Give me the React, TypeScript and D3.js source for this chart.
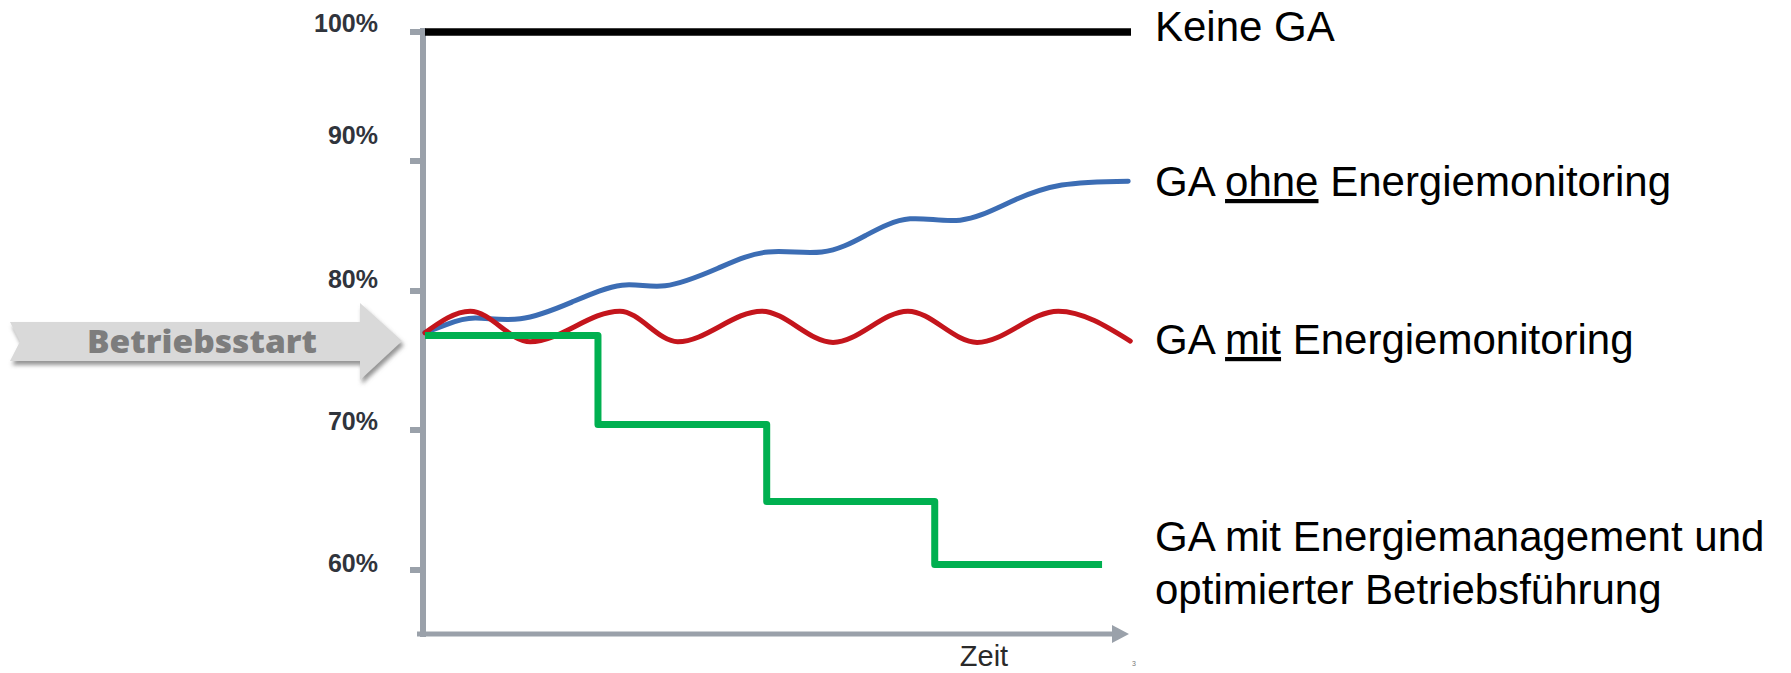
import React from "react";
import * as d3 from "d3";

// ---- data ----
const yTickValues = [60, 70, 80, 90, 100];
const yTickLabels = ["60%", "70%", "80%", "90%", "100%"];

// "Keine GA" (black)
const keineT = [0, 100];
const keineV = [100, 100];

// "GA ohne Energiemonitoring" (blue)
const ohneT = [0, 3.1, 7.1, 13.5, 20.8, 27.9, 34.0, 41.5, 48.6, 56.2, 62.5, 68.7, 75.8, 82.9, 90.2, 99.6];
const ohneV = [77.0, 77.6, 78.05, 78.0, 79.2, 80.45, 80.4, 81.75, 83.0, 83.0, 84.3, 85.55, 85.45, 86.85, 88.15, 88.45];

// "GA mit Energiemonitoring" (red)
const mitT = [0, 6.4, 14.9, 27.6, 35.8, 47.7, 57.8, 68.4, 78.2, 89.7, 99.9];
const mitV = [77.0, 78.55, 76.35, 78.55, 76.35, 78.55, 76.3, 78.55, 76.3, 78.55, 76.4];

// "GA mit Energiemanagement ..." (green, steps)
const mgmtT = [0, 24.5, 48.4, 72.2, 95.9];
const mgmtV = [76.8, 70.4, 64.9, 60.4, 60.4];

const xAxisLabel = "Zeit";
const startLabel = "Betriebsstart";

const W = 1791;
const H = 673;

export default function App() {
  const x = d3.scaleLinear().domain([0, 100]).range([425, 1131]);
  // the printed axis is not evenly spaced; follow its tick positions
  const y = d3.scaleLinear().domain(yTickValues).range([570, 430, 291, 161, 32]);
  const yLabel = d3.scaleLinear().domain(yTickValues).range([572, 430, 288, 144, 32]);

  const zip = (ts: number[], vs: number[]) => ts.map((t, i) => [t, vs[i]] as [number, number]);

  const mono = d3
    .line<[number, number]>()
    .x((d) => x(d[0]))
    .y((d) => y(d[1]))
    .curve(d3.curveMonotoneX);
  const natural = d3
    .line<[number, number]>()
    .x((d) => x(d[0]))
    .y((d) => y(d[1]))
    .curve(d3.curveNatural);
  const straight = d3
    .line<[number, number]>()
    .x((d) => x(d[0]))
    .y((d) => y(d[1]));
  const step = d3
    .line<[number, number]>()
    .x((d) => x(d[0]))
    .y((d) => y(d[1]))
    .curve(d3.curveStepAfter);

  const axisColor = "#9aa1aa";
  const axisX = x(0) - 2;
  const axisBottom = 635;

  const labelFont = "'Liberation Sans', Arial, sans-serif";
  const legendX = 1155;

  // Betriebsstart arrow shape
  const arrow = [
    [10, 322],
    [360, 322],
    [360, 303],
    [402, 341],
    [360, 380],
    [360, 361],
    [10, 361],
    [20, 341.5],
  ];

  return (
    <svg
      width={W}
      height={H}
      viewBox={`0 0 ${W} ${H}`}
      style={{ position: "absolute", left: 0, top: 0, background: "#fff" }}
    >
      <defs>
        <filter id="shadow" x="-5%" y="-20%" width="115%" height="160%">
          <feDropShadow dx="2" dy="4" stdDeviation="2" floodColor="#6f6f6f" floodOpacity="0.75" />
        </filter>
      </defs>
      <rect x={0} y={0} width={W} height={H} fill="#fff" />

      {/* Betriebsstart arrow */}
      <polygon
        points={arrow.map((p) => p.join(",")).join(" ")}
        fill="#d9d9d9"
        filter="url(#shadow)"
      />
      <text
        x={202}
        y={353}
        textAnchor="middle"
        fontFamily="'Open Sans', 'DejaVu Sans', sans-serif"
        fontWeight={800}
        fontSize={32}
        fill="#7d7d7d"
        textLength={230}
        lengthAdjust="spacingAndGlyphs"
      >
        {startLabel}
      </text>

      {/* y axis */}
      <line x1={axisX} x2={axisX} y1={28} y2={axisBottom + 2} stroke={axisColor} strokeWidth={6} />
      {yTickValues.map((v, i) => (
        <g key={v}>
          <line x1={410} x2={axisX} y1={y(v)} y2={y(v)} stroke={axisColor} strokeWidth={6} />
          <text
            x={378}
            y={yLabel(v)}
            textAnchor="end"
            fontFamily={labelFont}
            fontWeight={700}
            fontSize={25}
            fill="#30343c"
          >
            {yTickLabels[i]}
          </text>
        </g>
      ))}

      {/* x axis with arrow */}
      <line x1={417} x2={1114} y1={axisBottom - 1} y2={axisBottom - 1} stroke={axisColor} strokeWidth={5} />
      <polygon
        points={`${1112},${axisBottom - 10} ${1129},${axisBottom - 1} ${1112},${axisBottom + 8}`}
        fill={axisColor}
      />
      <text x={984} y={666} textAnchor="middle" fontFamily={labelFont} fontSize={29} fill="#2a2a2a">
        {xAxisLabel}
      </text>
      <text x={1132} y={666} fontFamily={labelFont} fontSize={7} fill="#777">
        3
      </text>

      {/* series */}
      <path d={straight(zip(keineT, keineV)) || ""} fill="none" stroke="#000" strokeWidth={7.5} />
      <path d={natural(zip(ohneT, ohneV)) || ""} fill="none" stroke="#3c6db4" strokeWidth={5} strokeLinecap="round" />
      <path d={mono(zip(mitT, mitV)) || ""} fill="none" stroke="#c4151c" strokeWidth={5} strokeLinecap="round" />
      <path
        d={step(zip(mgmtT, mgmtV)) || ""}
        fill="none"
        stroke="#00b050"
        strokeWidth={7}
        strokeLinejoin="round"
      />

      {/* right labels */}
      <g fontFamily={labelFont} fontSize={42} fill="#000">
        <text x={legendX} y={41}>Keine GA</text>
        <text x={legendX} y={196}>
          GA <tspan textDecoration="underline" style={{ textDecoration: "underline" }}>ohne</tspan> Energiemonitoring
        </text>
        <text x={legendX} y={354}>
          GA <tspan textDecoration="underline" style={{ textDecoration: "underline" }}>mit</tspan> Energiemonitoring
        </text>
        <text x={legendX} y={551}>GA mit Energiemanagement und</text>
        <text x={legendX} y={604}>optimierter Betriebsführung</text>
      </g>
    </svg>
  );
}
